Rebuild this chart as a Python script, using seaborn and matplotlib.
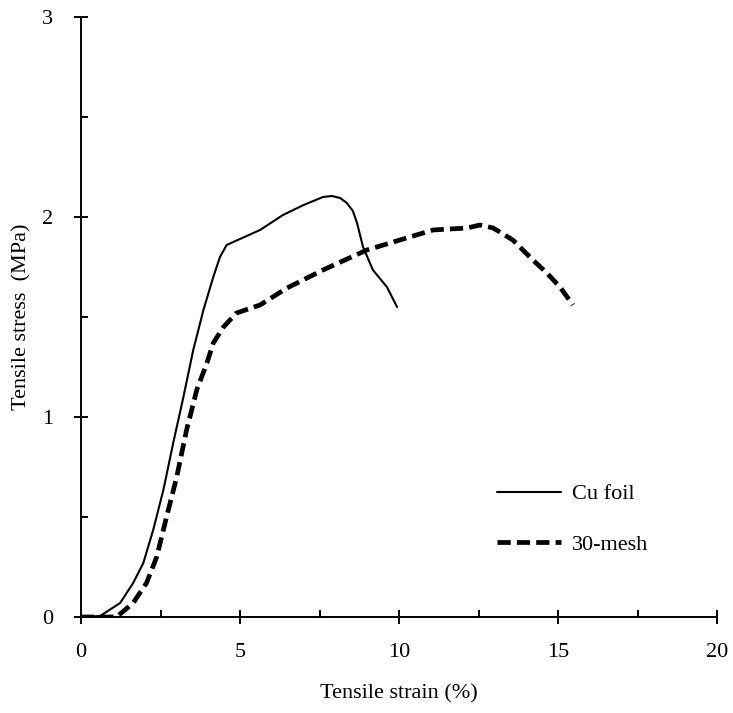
import numpy as np
import pandas as pd
import matplotlib
matplotlib.use("Agg")
import matplotlib.pyplot as plt
import seaborn as sns
from matplotlib.ticker import MultipleLocator

# Curves
cu_strain = [0.0, 0.6, 1.23, 1.64, 1.96, 2.27, 2.59, 2.9, 3.22, 3.53, 3.85, 4.16, 4.37, 4.58,
             5.0, 5.63, 6.35, 7.0, 7.61, 7.89, 8.15, 8.36, 8.55, 8.68, 8.87, 9.18, 9.62, 9.94]
cu_stress = [0.0, 0.005, 0.07, 0.17, 0.27, 0.435, 0.635, 0.87, 1.10, 1.335, 1.535, 1.70, 1.80, 1.86,
             1.89, 1.935, 2.01, 2.06, 2.1, 2.105, 2.095, 2.07, 2.03, 1.97, 1.85, 1.735, 1.65, 1.55]

mesh_strain = [0.0, 0.6, 1.12, 1.64, 2.06, 2.38, 2.69, 3.01, 3.32, 3.64, 3.96, 4.16, 4.48, 4.89,
               5.63, 6.48, 7.61, 8.99, 10.03, 11.07, 12.14, 12.55, 12.96, 13.58, 14.21, 14.65, 15.06, 15.47]
mesh_stress = [0.0, 0.0, 0.0, 0.07, 0.17, 0.30, 0.50, 0.70, 0.935, 1.135, 1.27, 1.37, 1.45, 1.52,
               1.56, 1.645, 1.735, 1.835, 1.885, 1.935, 1.945, 1.96, 1.945, 1.885, 1.785, 1.72, 1.65, 1.56]

df = pd.concat([
    pd.DataFrame({"strain": cu_strain, "stress": cu_stress, "sample": "Cu foil"}),
    pd.DataFrame({"strain": mesh_strain, "stress": mesh_stress, "sample": "30-mesh"}),
])

sns.set_style("white")
plt.rcParams['font.family'] = ['Liberation Serif', 'DejaVu Serif']
plt.rcParams['text.color'] = 'black'
plt.rcParams['axes.labelcolor'] = 'black'
plt.rcParams['xtick.color'] = 'black'
plt.rcParams['ytick.color'] = 'black'

fig = plt.figure(figsize=(7.33, 7.13), dpi=100)
ax = fig.add_axes([81 / 733, 1 - 617 / 713, 636 / 733, 600 / 713])

sns.lineplot(data=df, x="strain", y="stress", hue="sample", style="sample",
             palette={"Cu foil": "black", "30-mesh": "black"},
             dashes={"Cu foil": "", "30-mesh": (2.8, 1.3)},
             sort=False, estimator=None, ax=ax)
ax.lines[0].set_linewidth(1.5)
ax.lines[1].set_linewidth(3.4)

ax.set_xlim(0, 20)
ax.set_ylim(0, 3)
ax.xaxis.set_major_locator(MultipleLocator(5))
ax.xaxis.set_minor_locator(MultipleLocator(2.5))
ax.yaxis.set_major_locator(MultipleLocator(1))
ax.yaxis.set_minor_locator(MultipleLocator(0.5))
ax.tick_params(axis="both", which="major", direction="inout", length=10, width=1.4,
               labelsize=16, bottom=True, left=True)
ax.tick_params(axis="both", which="minor", direction="in", length=5, width=1.4,
               bottom=True, left=True)
ax.tick_params(axis="x", which="major", pad=14)
ax.tick_params(axis="y", which="major", pad=15)

for side in ["top", "right"]:
    ax.spines[side].set_visible(False)
for side in ["left", "bottom"]:
    ax.spines[side].set_linewidth(1.4)
    ax.spines[side].set_color("black")

ax.set_xlabel("Tensile strain (%)", fontsize=16, labelpad=16)
ax.set_ylabel("Tensile stress  (MPa)", fontsize=16, labelpad=8)

handles, labels = ax.get_legend_handles_labels()
handles[0].set_linewidth(1.5)
handles[1].set_linewidth(3.4)
ax.legend(handles, labels, loc="center left", bbox_to_anchor=(0.622, 0.163),
          frameon=False, fontsize=16, handlelength=2.9, handletextpad=0.5,
          labelspacing=1.33)

fig.savefig("out.png", dpi=100)
